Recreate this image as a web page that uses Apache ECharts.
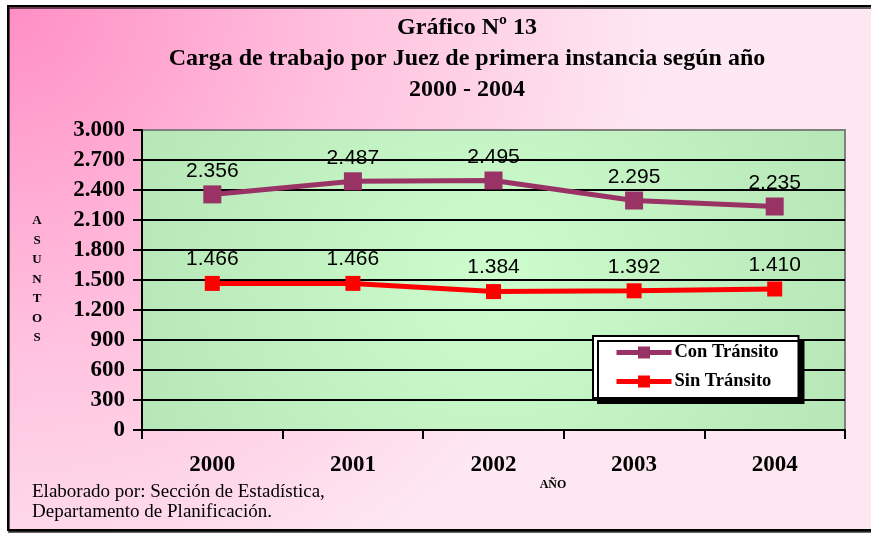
<!DOCTYPE html>
<html>
<head>
<meta charset="utf-8">
<script src="https://cdn.jsdelivr.net/npm/echarts@6/dist/echarts.min.js"></script>
<style>
  html, body { margin: 0; padding: 0; background: #fff; }
  #chart { width: 871px; height: 534px; }
</style>
</head>
<body>
<div id="chart"></div>
<script>
// datos
var years = ['2000', '2001', '2002', '2003', '2004'];
var conTransito = [2356, 2487, 2495, 2295, 2235];
var sinTransito = [1466, 1466, 1384, 1392, 1410];
var titleLines = ['Gráfico Nº 13', 'Carga de trabajo por Juez de primera instancia según año', '2000 - 2004'];
var footerLines = ['Elaborado por: Sección de Estadística,', 'Departamento de Planificación.'];

// 2356 -> "2.356"
function miles(v) {
    var s = String(Math.round(v));
    if (s.length <= 3) return s;
    return s.slice(0, s.length - 3) + '.' + s.slice(s.length - 3);
}

var serif = '"Liberation Serif", "Times New Roman", serif';
var sans = '"Liberation Sans", Arial, sans-serif';

var myChart = echarts.init(document.getElementById('chart'));

var splitColors = [];
for (var i = 0; i < 10; i++) splitColors.push('#000');
splitColors.push('#808080');

var options = {
    backgroundColor: '#fff',
    animation: false,
    graphic: {
        elements: [
            {
                type: 'rect',
                z: -10,
                shape: { x: 8, y: 6, width: 880, height: 524 },
                style: {
                    fill: new echarts.graphic.RadialGradient(0, 0, 1.25, [
                        { offset: 0, color: '#ff8ec4' },
                        { offset: 0.5, color: '#ffc0de' },
                        { offset: 1, color: '#fde8f2' }
                    ]),
                    stroke: '#000',
                    lineWidth: 2,
                    shadowColor: 'rgba(0,0,0,0.6)',
                    shadowOffsetX: 1,
                    shadowOffsetY: 2
                }
            },
            {
                type: 'text',
                x: 467, y: 12,
                style: {
                    text: titleLines.join('\n'),
                    font: 'bold 24px ' + serif,
                    lineHeight: 31,
                    fill: '#000',
                    align: 'center'
                }
            },
            {
                type: 'text',
                x: 37, y: 211,
                style: {
                    text: 'ASUNTOS'.split('').join('\n'),
                    font: 'bold 13px ' + serif,
                    lineHeight: 19.5,
                    fill: '#000',
                    align: 'center'
                }
            },
            {
                type: 'text',
                x: 553, y: 479,
                style: {
                    text: 'AÑO',
                    font: 'bold 12px ' + serif,
                    fill: '#000',
                    align: 'center'
                }
            },
            {
                type: 'text',
                x: 32, y: 482,
                style: {
                    text: footerLines.join('\n'),
                    font: '19px ' + serif,
                    lineHeight: 20,
                    fill: '#000'
                }
            }
        ]
    },
    grid: {
        left: 142,
        top: 130,
        width: 703,
        height: 300,
        show: true,
        backgroundColor: new echarts.graphic.RadialGradient(0.5, 0.5, 1.3, [
            { offset: 0, color: '#cdfdcd' },
            { offset: 1, color: '#b6e6b6' }
        ]),
        borderColor: '#808080',
        borderWidth: 2
    },
    legend: {
        orient: 'vertical',
        left: 593,
        top: 336,
        padding: [7, 20, 7, 21],
        itemWidth: 55,
        itemHeight: 15,
        itemGap: 10,
        backgroundColor: '#fff',
        borderColor: '#000',
        borderWidth: 2,
        shadowColor: '#000',
        shadowBlur: 0,
        shadowOffsetX: 5,
        shadowOffsetY: 5,
        lineStyle: { width: 5 },
        textStyle: { fontFamily: serif, fontWeight: 'bold', fontSize: 18.5, color: '#000', padding: [0, 0, 0, -2] },
        data: ['Con Tránsito', 'Sin Tránsito']
    },
    xAxis: {
        type: 'category',
        data: years,
        boundaryGap: true,
        axisLine: { lineStyle: { color: '#000', width: 2 } },
        axisTick: { show: true, length: 9, lineStyle: { color: '#000', width: 2 } },
        axisLabel: { fontFamily: serif, fontWeight: 'bold', fontSize: 23, color: '#000', margin: 24 }
    },
    yAxis: {
        type: 'value',
        min: 0,
        max: 3000,
        interval: 300,
        axisLine: { show: true, lineStyle: { color: '#000', width: 2 } },
        axisTick: { show: true, length: 9, lineStyle: { color: '#000', width: 2 } },
        axisLabel: { fontFamily: serif, fontWeight: 'bold', fontSize: 23, color: '#000', margin: 17, formatter: miles },
        splitLine: { show: true, lineStyle: { color: splitColors, width: 2 } }
    },
    series: [
        {
            name: 'Con Tránsito',
            type: 'line',
            data: conTransito,
            symbol: 'rect',
            symbolSize: 18,
            itemStyle: { color: '#993366' },
            lineStyle: { color: '#993366', width: 5 },
            label: {
                show: true, position: 'top', distance: 4,
                fontFamily: sans, fontSize: 21, color: '#000',
                formatter: function (p) { return miles(p.value); }
            },
            z: 3
        },
        {
            name: 'Sin Tránsito',
            type: 'line',
            data: sinTransito,
            symbol: 'rect',
            symbolSize: 15,
            itemStyle: { color: '#ff0000' },
            lineStyle: { color: '#ff0000', width: 5 },
            label: {
                show: true, position: 'top', distance: 6,
                fontFamily: sans, fontSize: 21, color: '#000',
                formatter: function (p) { return miles(p.value); }
            },
            z: 3
        }
    ]
};

myChart.setOption(options);
</script>
</body>
</html>
